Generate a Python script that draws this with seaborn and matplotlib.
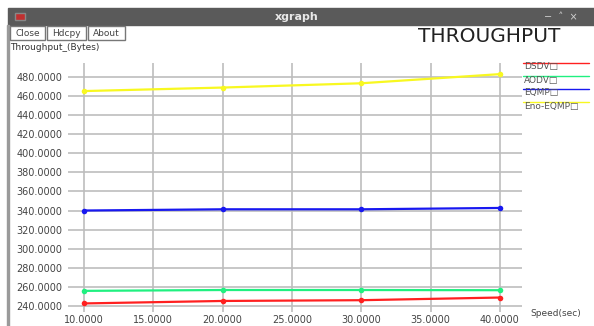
import matplotlib
matplotlib.use("Agg")
import matplotlib.pyplot as plt
import matplotlib.patches as mpatches
import numpy as np
import pandas as pd
import seaborn as sns

# values
speed = [10, 20, 30, 40]
dsdv = [242.4, 245.0, 245.8, 248.6]
aodv = [255.6, 256.5, 256.5, 256.3]
eqmp = [340.0, 341.3, 341.3, 342.7]
eno_eqmp = [465.5, 469.2, 473.7, 483.3]

series_names = ["DSDV", "AODV", "EQMP", "Eno-EQMP"]
series_colors = ["#ff2020", "#20f080", "#1818f0", "#f8f820"]
yticks = np.arange(240, 481, 20)
xticks = np.arange(10, 41, 5)

df = pd.DataFrame({
    "speed": speed * 4,
    "throughput": dsdv + aodv + eqmp + eno_eqmp,
    "protocol": np.repeat(series_names, len(speed)),
})

sns.set_style("white")
plt.rcParams["font.family"] = ["DejaVu Sans"]

W, H = 594, 326
fig = plt.figure(figsize=(W / 100, H / 100), dpi=100)
fig.patch.set_facecolor("white")

# window chrome: title bar, border, buttons
fig.patches.append(mpatches.Rectangle((8 / W, 1 - 25 / H), 1 - 8 / W, 17 / H,
                                      transform=fig.transFigure, color="#5a5a5a", zorder=0))
fig.patches.append(mpatches.Rectangle((15 / W, 1 - 20 / H), 10 / W, 7 / H,
                                      transform=fig.transFigure, color="#c03030", ec="#888888", zorder=1))
fig.patches.append(mpatches.Rectangle((7 / W, 0), 2 / W, 1 - 25 / H,
                                      transform=fig.transFigure, color="#9a9a9a", zorder=0))
fig.text(297 / W, 1 - 16.5 / H, "xgraph", color="#e8e8e8", fontsize=8, fontweight="bold",
         ha="center", va="center")
fig.text(578 / W, 1 - 16.5 / H, "\u2212  \u02c4  \u00d7", color="#d0d0d0", fontsize=7,
         ha="right", va="center")
for label, x0, x1 in [("Close", 10, 45), ("Hdcpy", 47, 86), ("About", 88, 125)]:
    fig.patches.append(mpatches.Rectangle((x0 / W, 1 - 40 / H), (x1 - x0) / W, 14 / H,
                                          transform=fig.transFigure, fc="white",
                                          ec="#777777", lw=1))
    fig.text((x0 + x1) / 2 / W, 1 - 33 / H, label, fontsize=6.5, color="#444444",
             ha="center", va="center")

fig.text(10 / W, 1 - 48 / H, "Throughput_(Bytes)", fontsize=6.5, color="#333333",
         ha="left", va="center")
fig.text(489 / W, 1 - 37 / H, "THROUGHPUT", fontsize=14.5, color="#222222",
         ha="center", va="center")
fig.text(530 / W, 1 - 313 / H, "Speed(sec)", fontsize=6.5, color="#444444",
         ha="left", va="center")

# plot area
ax = fig.add_axes([68 / W, 1 - 312 / H, (522 - 68) / W, (312 - 63) / H])
ax.set_facecolor("white")
for name, color in zip(series_names, series_colors):
    sns.lineplot(data=df[df.protocol == name], x="speed", y="throughput", ax=ax,
                 color=color, lw=1.6, marker="o", markersize=4, markeredgewidth=0,
                 zorder=3, legend=False)

ax.set_xlim(8.85, 41.6)
ax.set_ylim(233.4, 495)
ax.set_xticks(xticks)
ax.set_yticks(yticks)
ax.set_xticklabels([f"{v:.4f}" for v in xticks])
ax.set_yticklabels([f"{v:.4f}" for v in yticks])
ax.tick_params(axis="y", length=0, labelsize=7, labelcolor="#444444", pad=4)
ax.tick_params(axis="x", length=0, labelsize=7, labelcolor="#444444", pad=2)
ax.grid(True, color="#bdbdbd", lw=1.2)
for s in ax.spines.values():
    s.set_visible(False)
ax.set_xlabel("")
ax.set_ylabel("")

# xgraph style legend: coloured line above each label
for i, (name, color) in enumerate(zip(series_names, series_colors)):
    ly = 63 + i * 13
    fig.add_artist(plt.Line2D([523 / W, 589 / W], [1 - ly / H, 1 - ly / H],
                              color=color, lw=1, transform=fig.transFigure))
    fig.text(524 / W, 1 - (ly + 4) / H, name + "\u25a1", fontsize=6.5, color="#555555",
             ha="left", va="center")

fig.savefig("out.png", dpi=100)
